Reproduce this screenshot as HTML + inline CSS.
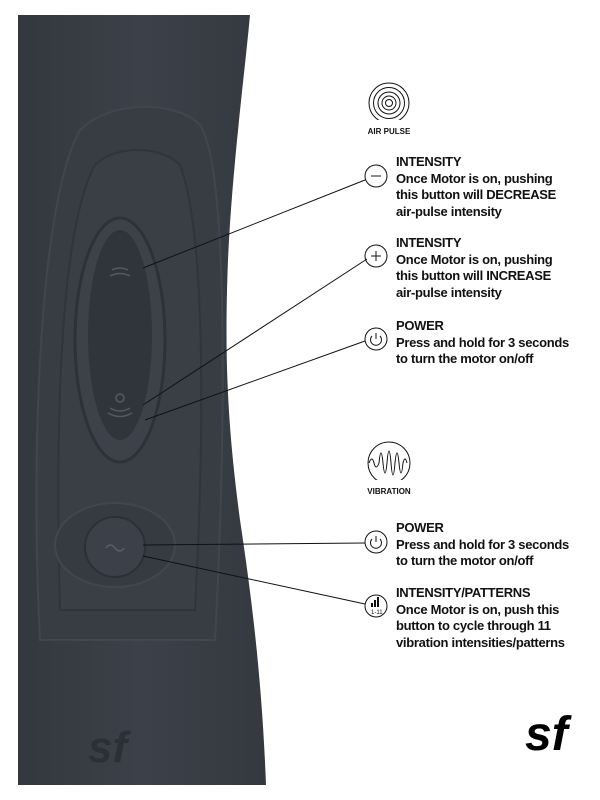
<!DOCTYPE html>
<html><head><style>
body{margin:0;width:600px;height:800px;background:#fff;overflow:hidden;position:relative;font-family:"Liberation Sans",sans-serif;}
.t{position:absolute;left:396px;font-size:13px;font-weight:bold;line-height:16.5px;color:#111;letter-spacing:-0.3px;}
</style></head><body>
<svg width="600" height="800" style="position:absolute;left:0;top:0">
<defs>
<linearGradient id="g" x1="0" x2="1"><stop offset="0" stop-color="#33383f"/><stop offset="0.5" stop-color="#3c4149"/><stop offset="1" stop-color="#343940"/></linearGradient>
</defs>
<path d="M18,15 L250,15 C244,80 232,170 228,260 C224,360 228,430 240,520 C252,600 262,680 266,785 L18,785 Z" fill="url(#g)"/>
<path d="M40,640 C30,450 40,200 80,130 C110,100 175,100 200,125 C230,170 225,450 215,640 Z" fill="#383d44" stroke="#41464e" stroke-width="2"/>
<path d="M60,610 C55,420 60,230 95,165 C115,145 160,145 180,165 C205,230 205,420 195,610 Z" fill="#3a3f46" stroke="#30353b" stroke-width="2"/>
<ellipse cx="120" cy="340" rx="45" ry="122" fill="#3d424a" stroke="#2e3238" stroke-width="3"/>
<ellipse cx="120" cy="335" rx="32" ry="105" fill="#30353b"/>
<path d="M112,270 q8,-4 16,0 M110,276 q10,-5 20,0" stroke="#555a62" fill="none" stroke-width="1.5"/>
<circle cx="120" cy="398" r="4" stroke="#555a62" fill="none" stroke-width="1.5"/>
<path d="M110,408 q10,6 20,0 M108,413 q12,7 24,0" stroke="#555a62" fill="none" stroke-width="1.5"/>
<ellipse cx="115" cy="545" rx="60" ry="42" fill="#363b42" stroke="#42474f" stroke-width="2"/>
<circle cx="115" cy="547" r="30" fill="#3c4149" stroke="#2c3036" stroke-width="2"/>
<path d="M106,548 q4,-6 9,0 t9,0" stroke="#5a5f67" fill="none" stroke-width="1.5"/>
<text x="88" y="762" font-family="Liberation Sans" font-weight="bold" font-size="44" fill="#2c3036" font-style="italic">sf</text>
<g stroke="#111" stroke-width="1" fill="none">
<line x1="143" y1="268" x2="365" y2="180"/>
<line x1="143" y1="405" x2="367" y2="259"/>
<line x1="145" y1="420" x2="365" y2="341"/>
<line x1="143" y1="545" x2="365" y2="543"/>
<line x1="143" y1="556" x2="365" y2="604"/>
<circle cx="376" cy="176" r="11"/><line x1="371" y1="176" x2="381" y2="176"/>
<circle cx="376" cy="256" r="11"/><line x1="371" y1="256" x2="381" y2="256"/><line x1="376" y1="251" x2="376" y2="261"/>
<circle cx="376" cy="339" r="11"/><path d="M372,336 a5.5,5.5 0 1 0 8,0"/><line x1="376" y1="333" x2="376" y2="339"/>
<circle cx="376" cy="542" r="11"/><path d="M372,539 a5.5,5.5 0 1 0 8,0"/><line x1="376" y1="536" x2="376" y2="542"/>
<circle cx="376" cy="606" r="11"/>
<circle cx="389" cy="103" r="20"/><circle cx="389" cy="103" r="15.5"/><circle cx="389" cy="103" r="11"/><circle cx="389" cy="103" r="7"/><circle cx="389" cy="103" r="3.5"/>
<circle cx="389" cy="463" r="21"/>
<path d="M369,463 q3,-8 5,0 t5,0 q2,-20 4,0 t4,0 q2,-24 4,0 t4,0 q2,-20 4,0 t4,0 q2,-8 4,0"/>
</g>
<rect x="366" y="120" width="48" height="16" fill="#fff"/>
<rect x="366" y="480" width="48" height="16" fill="#fff"/>
<g fill="#111"><rect x="371" y="603" width="2" height="4"/><rect x="374" y="600" width="2" height="7"/><rect x="377" y="597" width="2" height="10"/></g>
<text x="371" y="614" font-size="6" font-family="Liberation Sans" fill="#111">1-11</text>
<text x="389" y="134" font-size="8" font-weight="bold" font-family="Liberation Sans" text-anchor="middle" fill="#111">AIR PULSE</text>
<text x="389" y="494" font-size="8" font-weight="bold" font-family="Liberation Sans" text-anchor="middle" fill="#111">VIBRATION</text>
<text x="525" y="750" font-family="Liberation Sans" font-weight="bold" font-size="48" fill="#000" font-style="italic">sf</text>
</svg>
<div class="t" style="top:154px">INTENSITY<br>Once Motor is on, pushing<br>this button will DECREASE<br>air-pulse intensity</div>
<div class="t" style="top:235px">INTENSITY<br>Once Motor is on, pushing<br>this button will INCREASE<br>air-pulse intensity</div>
<div class="t" style="top:318px">POWER<br>Press and hold for 3 seconds<br>to turn the motor on/off</div>
<div class="t" style="top:520px">POWER<br>Press and hold for 3 seconds<br>to turn the motor on/off</div>
<div class="t" style="top:585px">INTENSITY/PATTERNS<br>Once Motor is on, push this<br>button to cycle through 11<br>vibration intensities/patterns</div>
</body></html>
